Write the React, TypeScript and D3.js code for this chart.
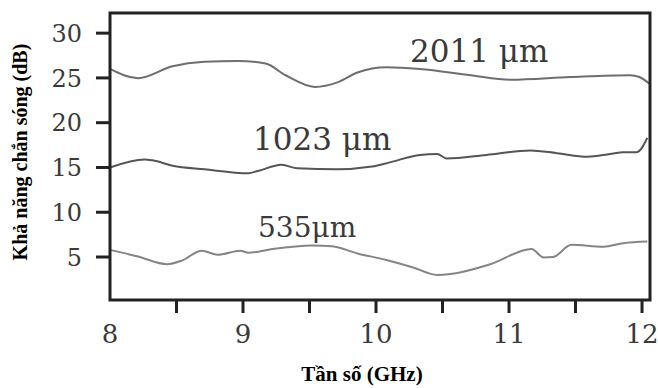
import * as d3 from "d3";

const W = 658;
const H = 388;
const M = { left: 110, top: 13, right: 650, bottom: 300 };

// frequency (GHz) / shielding (dB)
const freq2011 = [8.0, 8.21, 8.47, 8.71, 8.96, 9.17, 9.32, 9.54, 9.71, 9.86, 10.08, 10.33, 10.71, 11.01, 11.46, 11.91, 11.98, 12.06];
const db2011 = [26.0, 24.97, 26.3, 26.8, 26.9, 26.6, 25.3, 24.0, 24.5, 25.6, 26.2, 26.0, 25.3, 24.8, 25.1, 25.3, 25.1, 24.3];

const freq1023 = [8.0, 8.26, 8.32, 8.47, 8.71, 9.04, 9.11, 9.29, 9.41, 9.71, 9.97, 10.11, 10.33, 10.46, 10.53, 10.83, 11.16, 11.36, 11.59, 11.76, 11.86, 11.96, 12.04];
const db1023 = [15.0, 15.9, 15.8, 15.2, 14.8, 14.36, 14.6, 15.3, 14.9, 14.8, 15.1, 15.6, 16.4, 16.5, 16.0, 16.4, 16.9, 16.6, 16.2, 16.5, 16.7, 16.7, 18.3];

const freq535 = [8.0, 8.21, 8.43, 8.54, 8.69, 8.81, 8.98, 9.04, 9.22, 9.52, 9.67, 9.86, 10.07, 10.28, 10.46, 10.56, 10.86, 11.17, 11.26, 11.33, 11.47, 11.71, 11.86, 12.04];
const db535 = [5.8, 5.06, 4.2, 4.6, 5.7, 5.25, 5.7, 5.47, 5.9, 6.3, 6.2, 5.4, 4.7, 3.83, 3.0, 3.1, 4.2, 5.9, 4.95, 5.0, 6.36, 6.14, 6.55, 6.73];

const yTicks = [5, 10, 15, 20, 25, 30];
const xLabels = [8, 9, 10, 11, 12];
const xTickMarks = [8.5, 9, 9.5, 10, 10.5, 11, 11.5, 12];

const series = [
  { name: "2011 μm", f: freq2011, v: db2011, color: "#6e6e6e", lx: 410, ly: 62, size: 31 },
  { name: "1023 μm", f: freq1023, v: db1023, color: "#555555", lx: 253, ly: 150, size: 31 },
  { name: "535μm", f: freq535, v: db535, color: "#858585", lx: 258, ly: 237, size: 28 },
];

const serif = "'DejaVu Serif', serif";
const titleFont = "'Liberation Serif', 'Times New Roman', serif";

export default function App() {
  const x = d3.scaleLinear().domain([8, 12.06]).range([M.left, M.right]);
  const y = d3.scaleLinear().domain([0.2, 32.25]).range([M.bottom, M.top]);

  const gen = d3
    .line<[number, number]>()
    .x((d) => x(d[0]))
    .y((d) => y(d[1]))
    .curve(d3.curveMonotoneX);

  return (
    <svg
      width={W}
      height={H}
      style={{ position: "absolute", left: 0, top: 0, background: "#fff" }}
    >
      {/* curves */}
      {series.map((s) => (
        <path
          key={s.name}
          d={gen(s.f.map((f, i) => [f, s.v[i]] as [number, number])) || ""}
          fill="none"
          stroke={s.color}
          strokeWidth={2}
        />
      ))}

      {/* frame */}
      <rect
        x={M.left}
        y={M.top}
        width={M.right - M.left}
        height={M.bottom - M.top}
        fill="none"
        stroke="#222"
        strokeWidth={3}
      />

      {/* y ticks */}
      {yTicks.map((t) => (
        <g key={t}>
          <line x1={M.left - 14} x2={M.left} y1={y(t)} y2={y(t)} stroke="#222" strokeWidth={3} />
          <text
            x={82}
            y={y(t)}
            dy="0.36em"
            textAnchor="end"
            fontFamily={serif}
            fontSize={24}
            fill="#3a3a3a"
          >
            {t}
          </text>
        </g>
      ))}

      {/* x ticks */}
      {xTickMarks.map((t) => (
        <line key={t} x1={x(t)} x2={x(t)} y1={M.bottom} y2={M.bottom + 13} stroke="#222" strokeWidth={3} />
      ))}
      {xLabels.map((t) => (
        <text
          key={t}
          x={x(t)}
          y={343}
          textAnchor="middle"
          fontFamily={serif}
          fontSize={26}
          fill="#3a3a3a"
        >
          {t}
        </text>
      ))}

      {/* series labels */}
      {series.map((s) => (
        <text
          key={"l" + s.name}
          x={s.lx}
          y={s.ly}
          fontFamily={serif}
          fontSize={s.size}
          fill="#3a3a3a"
        >
          {s.name}
        </text>
      ))}

      {/* axis titles */}
      <text
        transform="translate(27,152) rotate(-90)"
        textAnchor="middle"
        fontFamily={titleFont}
        fontWeight="bold"
        fontSize={20}
        fill="#000"
      >
        Khả năng chắn sóng (dB)
      </text>
      <text
        x={362}
        y={381}
        textAnchor="middle"
        fontFamily={titleFont}
        fontWeight="bold"
        fontSize={21}
        fill="#000"
      >
        Tần số (GHz)
      </text>
    </svg>
  );
}
